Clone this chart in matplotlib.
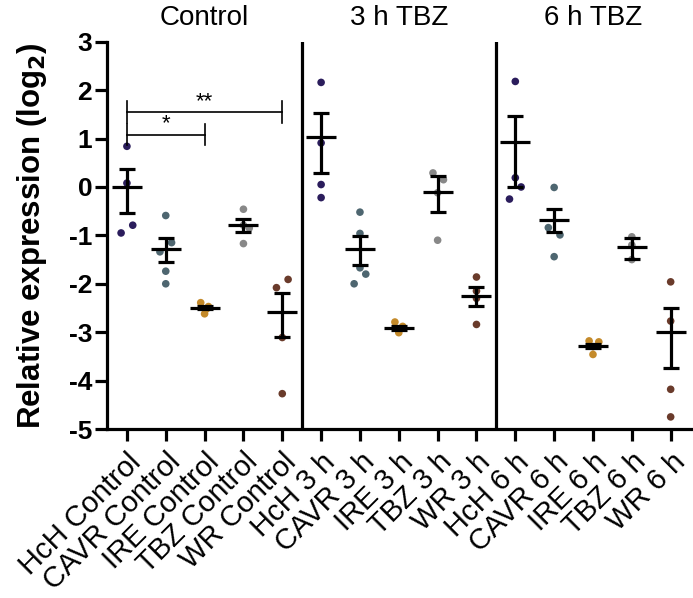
import matplotlib
matplotlib.use("Agg")
import matplotlib.pyplot as plt

plt.rcParams['font.family'] = ['Liberation Sans', 'DejaVu Sans']

# ---------------- data ----------------
categories = ["HcH Control", "CAVR Control", "IRE Control", "TBZ Control", "WR Control",
              "HcH 3 h", "CAVR 3 h", "IRE 3 h", "TBZ 3 h", "WR 3 h",
              "HcH 6 h", "CAVR 6 h", "IRE 6 h", "TBZ 6 h", "WR 6 h"]

points = [
    [0.84, 0.08, -0.79, -0.95],
    [-0.59, -1.15, -1.34, -1.74, -2.00],
    [-2.39, -2.47, -2.52, -2.62],
    [-0.46, -0.79, -0.85, -1.17],
    [-1.91, -2.08, -3.11, -4.27],
    [2.16, 0.91, 0.05, -0.22],
    [-0.52, -0.96, -1.67, -1.80, -2.00],
    [-2.79, -2.88, -2.93, -3.01],
    [0.29, 0.15, -0.12, -1.10],
    [-1.86, -2.15, -2.30, -2.84],
    [2.18, 0.19, 0.00, -0.25],
    [-0.01, -0.84, -0.99, -1.44],
    [-3.18, -3.20, -3.30, -3.46],
    [-1.03, -1.20, -1.50],
    [-1.96, -2.77, -4.18, -4.75],
]

# horizontal spread of the dots (fraction of a category slot)
jitter = [
    [0, 0, 0.15, -0.15],
    [0, 0.15, -0.15, 0, 0],
    [-0.1, 0.1, 0.05, 0],
    [0, 0, 0.15, 0],
    [0.15, -0.15, 0, 0],
    [0, 0, 0, 0],
    [0, 0, 0, 0.15, -0.15],
    [-0.1, 0.1, 0, 0],
    [-0.12, 0.15, 0, 0],
    [0, 0, 0, 0],
    [0, 0, 0.15, -0.15],
    [0, -0.15, 0.15, 0],
    [-0.1, 0.15, 0, 0],
    [0, 0, 0],
    [0, 0, 0, 0],
]

means = [0.00, -1.29, -2.49, -0.79, -2.58,
         1.03, -1.28, -2.91, -0.10, -2.25,
         0.92, -0.68, -3.29, -1.25, -3.00]
err_high = [0.38, -1.05, -2.45, -0.66, -2.20,
            1.53, -1.01, -2.87, 0.23, -2.07,
            1.47, -0.46, -3.25, -1.05, -2.51]
err_low = [-0.54, -1.56, -2.53, -0.93, -3.10,
           0.29, -1.61, -2.95, -0.51, -2.46,
           0.00, -0.94, -3.33, -1.49, -3.75]

group_titles = ["Control", "3 h TBZ", "6 h TBZ"]
yticks = [-5, -4, -3, -2, -1, 0, 1, 2, 3]

# significance comparisons: (from index, to index, label, height)
comparisons = [(0, 4, "**", 1.55), (0, 2, "*", 1.08)]

# ---------------- style ----------------
species_colors = ["#2B1D5C", "#4E6670", "#C48A2A", "#888888", "#6A3B2B"]
lw = 2.3

fig = plt.figure(figsize=(6.93, 5.98), dpi=100)
ax = fig.add_axes([0.154, 0.2826, 0.8446, 0.6476])

for i, (vals, jit) in enumerate(zip(points, jitter)):
    xs = [i + j for j in jit]
    ax.scatter(xs, vals, s=30, color=species_colors[i % 5], edgecolors='none', zorder=2)

x_idx = list(range(len(categories)))
yerr = [[m - lo for m, lo in zip(means, err_low)], [hi - m for m, hi in zip(means, err_high)]]
ax.errorbar(x_idx, means, yerr=yerr, fmt='none', ecolor='black', elinewidth=lw,
            capsize=5.5, capthick=lw, zorder=3)
ax.plot(x_idx, means, linestyle='none', marker='_', markersize=21, markeredgewidth=lw,
        color='black', zorder=4)

# group separators
for g in range(1, len(group_titles)):
    ax.axvline(5 * g - 0.5, color='black', lw=lw, zorder=1)

# significance brackets
tick_h = 0.22
for a, b, lab, h in comparisons:
    ax.plot([a, b], [h, h], color='black', lw=1.2)
    ax.plot([a, a], [h - tick_h, h + tick_h], color='black', lw=1.2)
    ax.plot([b, b], [h - tick_h, h + tick_h], color='black', lw=1.2)
    ax.text((a + b) / 2, h + 0.0, lab, ha='center', va='bottom', fontsize=16)

# group titles
for g, t in enumerate(group_titles):
    ax.text(5 * g + 2, 3.5, t, ha='center', va='center', fontsize=20)

ax.set_xlim(-0.52, 14.55)
ax.set_ylim(-5, 3)
ax.set_yticks(yticks)
ax.set_yticklabels([str(v) for v in yticks], fontsize=19, fontweight='bold')
ax.set_xticks(x_idx)
ax.set_xticklabels(categories, rotation=45, ha='right', rotation_mode='anchor', fontsize=21)

for side in ['top', 'right']:
    ax.spines[side].set_visible(False)
for side in ['left', 'bottom']:
    ax.spines[side].set_linewidth(lw)
ax.tick_params(axis='both', width=lw, length=8.5, direction='out')
ax.tick_params(axis='y', pad=2)
ax.tick_params(axis='x', pad=5)

ax.set_ylabel("Relative expression (log$_\\mathbf{2}$)", fontsize=22.5, fontweight='bold')
ax.yaxis.set_label_coords(-0.099, 0.5)

fig.savefig("out.png", dpi=100)
